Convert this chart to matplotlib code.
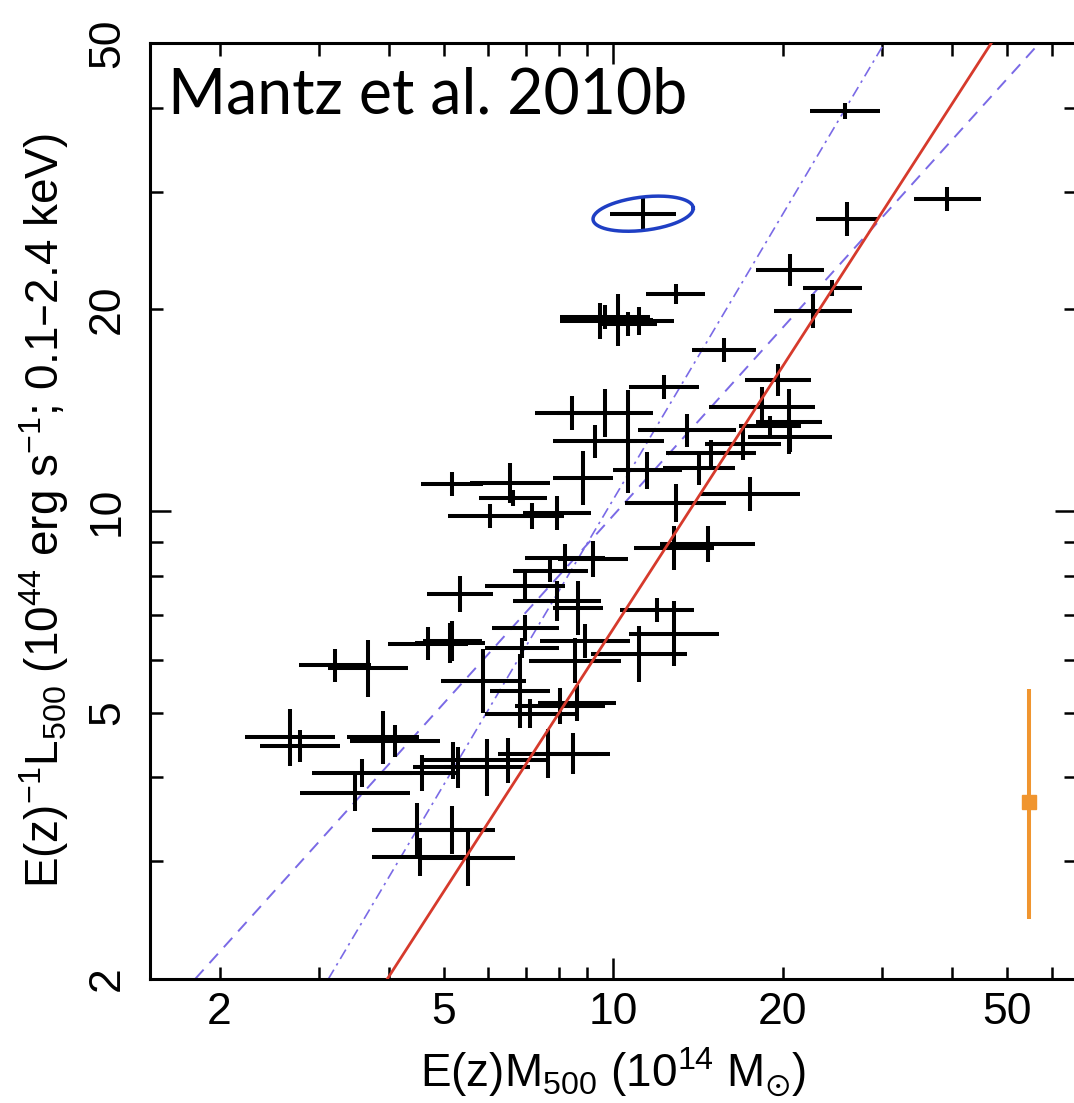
import numpy as np
import matplotlib
matplotlib.use("Agg")
import matplotlib.pyplot as plt

plt.rcParams['font.family'] = ['Liberation Sans', 'DejaVu Sans']
plt.rcParams['mathtext.default'] = 'regular'

# cluster masses E(z)M500 (1e14 Msun) and luminosities E(z)^-1 L500 (1e44 erg/s)
mass = [25.8, 11.3, 26.0, 39.2, 20.6, 24.5, 22.6, 12.9, 9.48, 10.2,
        10.6, 11.1, 9.68, 15.7, 19.6, 12.3, 18.4, 20.5, 20.6, 17.0,
        19.0, 14.9, 14.2, 13.5, 11.5, 10.6, 8.46, 9.68, 9.29, 8.84,
        5.18, 6.56, 6.64, 6.05, 7.18, 7.95, 12.9, 17.5, 12.8, 14.7,
        8.22, 9.22, 7.73, 5.35, 6.98, 7.95, 8.66, 11.97, 12.8, 11.1,
        8.92, 5.18, 6.98, 6.89, 8.56, 5.88, 6.83, 8.05, 8.63, 7.12,
        5.20, 5.97, 6.51, 7.66, 8.49, 3.21, 3.67, 4.69, 5.13, 2.67,
        2.78, 3.90, 4.10, 3.58, 3.48, 4.58, 5.30, 4.49, 5.18, 4.54,
        5.53]
lum = [39.6, 27.8, 27.3, 29.2, 22.9, 21.5, 19.9, 21.1, 19.2, 19.3,
       19.0, 19.2, 19.5, 17.4, 15.7, 15.3, 14.3, 13.6, 12.9, 12.6,
       13.4, 12.2, 11.6, 13.2, 11.5, 12.7, 14.0, 14.0, 12.7, 11.2,
       10.97, 11.0, 10.45, 9.83, 9.83, 9.93, 10.28, 10.6, 8.81, 8.93,
       8.51, 8.48, 8.14, 7.52, 7.73, 7.34, 7.17, 7.12, 6.56, 6.12,
       6.40, 6.40, 6.69, 6.25, 5.98, 5.58, 5.39, 5.12, 5.16, 4.98,
       4.24, 4.14, 4.24, 4.34, 4.34, 5.88, 5.82, 6.34, 6.36, 4.59,
       4.46, 4.59, 4.54, 4.06, 3.79, 4.06, 4.14, 3.34, 3.34, 3.04,
       3.03]
# half-widths of the error bars in dex
mass_err = [0.062, 0.059, 0.055, 0.059, 0.060, 0.053, 0.069, 0.052, 0.071, 0.062,
            0.053, 0.062, 0.080, 0.057, 0.059, 0.062, 0.094, 0.059, 0.075, 0.067,
            0.055, 0.080, 0.064, 0.087, 0.062, 0.064, 0.066, 0.085, 0.075, 0.053,
            0.055, 0.071, 0.060, 0.075, 0.057, 0.060, 0.089, 0.089, 0.071, 0.085,
            0.071, 0.062, 0.067, 0.059, 0.071, 0.078, 0.044, 0.066, 0.080, 0.085,
            0.080, 0.053, 0.059, 0.066, 0.082, 0.075, 0.053, 0.080, 0.069, 0.080,
            0.059, 0.076, 0.067, 0.089, 0.066, 0.064, 0.071, 0.071, 0.062, 0.080,
            0.071, 0.064, 0.080, 0.089, 0.098, 0.067, 0.080, 0.080, 0.076, 0.085,
            0.083]
lum_err = [0.012, 0.024, 0.025, 0.018, 0.024, 0.012, 0.025, 0.015, 0.027, 0.039,
           0.018, 0.021, 0.018, 0.018, 0.024, 0.018, 0.030, 0.049, 0.022, 0.024,
           0.015, 0.019, 0.025, 0.025, 0.028, 0.077, 0.025, 0.036, 0.024, 0.040,
           0.018, 0.030, 0.012, 0.018, 0.019, 0.025, 0.028, 0.025, 0.033, 0.027,
           0.021, 0.027, 0.016, 0.027, 0.019, 0.030, 0.040, 0.018, 0.049, 0.042,
           0.025, 0.030, 0.019, 0.015, 0.033, 0.048, 0.055, 0.027, 0.027, 0.022,
           0.027, 0.042, 0.033, 0.037, 0.031, 0.025, 0.042, 0.025, 0.030, 0.042,
           0.024, 0.040, 0.024, 0.021, 0.027, 0.027, 0.030, 0.040, 0.036, 0.028,
           0.042]

# scaling relations: mass where each line meets L = 2 and L = 50
lum_ends = [2, 50]
fit_red = [3.97, 46.9]
fit_dashed = [1.81, 57.1]
fit_dashdot = [3.12, 30.3]

# highlighted cluster and its confidence contour (dex semi-axes)
ell_mass, ell_lum = 11.3, 27.8
ell_a, ell_b, ell_tilt = 0.089, 0.025, 0.008

# typical scatter marker
scat_mass, scat_lum = 54.8, 3.67
scat_lo, scat_hi = 2.46, 5.43

mass = np.array(mass)
lum = np.array(lum)
mass_err = np.array(mass_err)
lum_err = np.array(lum_err)

fig = plt.figure(figsize=(10.74, 11.03), dpi=100)
ax = fig.add_axes([150 / 1074, 124 / 1103, 926 / 1074, 936 / 1103])
ax.set_xscale('log')
ax.set_yscale('log')
ax.set_xlim(1.505, 66.3)
ax.set_ylim(2, 50)

xerr = [mass - mass * 10 ** -mass_err, mass * 10 ** mass_err - mass]
yerr = [lum - lum * 10 ** -lum_err, lum * 10 ** lum_err - lum]
ax.errorbar(mass, lum, xerr=xerr, yerr=yerr, fmt='none', ecolor='black',
            elinewidth=2.9, capsize=0, zorder=3)

ax.plot(fit_red, lum_ends, color='#d63a2c', lw=2.0, zorder=4)
ax.plot(fit_dashed, lum_ends, color='#7a6ae6', lw=1.4, dashes=(6.5, 4.5), zorder=2)
ax.plot(fit_dashdot, lum_ends, color='#7a6ae6', lw=1.2, dashes=(6.5, 3, 1.5, 3), zorder=2)

t = np.linspace(0, 2 * np.pi, 200)
ex = ell_mass * 10 ** (ell_a * np.cos(t))
ey = ell_lum * 10 ** (ell_b * np.sin(t) + ell_tilt * np.cos(t))
ax.plot(ex, ey, color='#1f3fc4', lw=2.5, zorder=4)

ax.errorbar([scat_mass], [scat_lum],
            yerr=[[scat_lum - scat_lo], [scat_hi - scat_lum]],
            fmt='s', color='#f0952f', ms=10, elinewidth=2.9, capsize=0, zorder=4)

# decade ticks are long, the rest short; labels on 2, 5, 10, 20, 50
minor_x = [2, 3, 4, 5, 6, 7, 8, 9, 20, 30, 40, 50, 60]
minor_y = [2, 3, 4, 5, 6, 7, 8, 9, 20, 30, 40, 50]
lab = {2: '2', 5: '5', 20: '20', 50: '50'}
ax.set_xticks([10])
ax.set_xticklabels(['10'])
ax.set_xticks(minor_x, minor=True)
ax.set_xticklabels([lab.get(v, '') for v in minor_x], minor=True)
ax.set_yticks([10])
ax.set_yticklabels(['10'], rotation=90, va='center')
ax.set_yticks(minor_y, minor=True)
ax.set_yticklabels([lab.get(v, '') for v in minor_y], minor=True, rotation=90, va='center')

ax.tick_params(which='both', direction='in', top=True, right=True,
               width=1.8, labelsize=32, colors='black')
ax.tick_params(which='major', length=15)
ax.tick_params(which='minor', length=9)
ax.tick_params(axis='x', which='both', pad=9)
ax.tick_params(axis='y', which='both', pad=16)
for s in ax.spines.values():
    s.set_linewidth(2.2)

ax.set_xlabel(r'E(z)M$_{500}$ (10$^{14}$ M$_{\odot}$)', fontsize=33)
ax.set_ylabel(r'E(z)$^{-1}$L$_{500}$ (10$^{44}$ erg s$^{-1}$; 0.1–2.4 keV)', fontsize=33)
ax.xaxis.set_label_coords(0.5, -0.071)
ax.yaxis.set_label_coords(-0.085, 0.5)

ax.text(0.0195, 0.925, 'Mantz et al. 2010b', transform=ax.transAxes,
        fontsize=45, family='Lato', va='baseline', ha='left')

fig.savefig('out.png', dpi=100)
